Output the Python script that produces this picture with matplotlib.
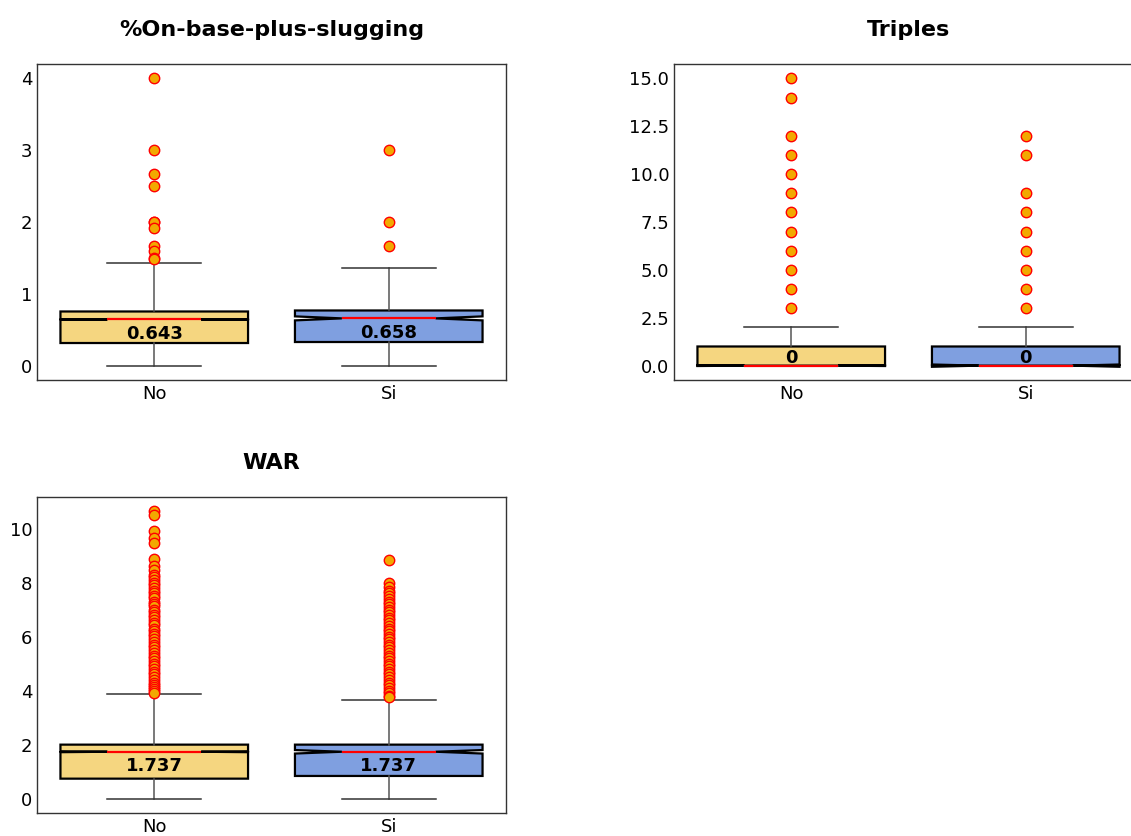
import matplotlib
matplotlib.use("Agg")
import matplotlib.pyplot as plt

# group labels
groups = ["No", "Si"]
titles = ["%On-base-plus-slugging", "Triples", "WAR"]

# %On-base-plus-slugging
ops_q1 = [0.315, 0.329]
ops_med = [0.643, 0.658]
ops_q3 = [0.754, 0.768]
ops_lo = [0.0, 0.0]
ops_hi = [1.435, 1.36]
ops_ci = [(0.638, 0.648), (0.630, 0.686)]
ops_fliers_no = [4.0, 3.0, 2.667, 2.5, 2.0, 2.0, 1.91, 1.667, 1.6, 1.5, 1.48]
ops_fliers_si = [3.0, 2.0, 1.667]

# Triples
tri_q1 = [0.0, 0.0]
tri_med = [0.0, 0.0]
tri_q3 = [1.0, 1.0]
tri_lo = [0.0, 0.0]
tri_hi = [2.0, 2.0]
tri_ci = [(-0.02, 0.02), (-0.06, 0.06)]
tri_fliers_no = [3, 4, 5, 6, 7, 8, 9, 10, 11, 12, 14, 15]
tri_fliers_si = [3, 4, 5, 6, 7, 8, 9, 11, 12]

# WAR
war_q1 = [0.74, 0.84]
war_med = [1.737, 1.737]
war_q3 = [2.0, 2.0]
war_lo = [0.0, 0.0]
war_hi = [3.86, 3.64]
war_ci = [(1.72, 1.755), (1.67, 1.80)]
war_fliers_no = [10.64, 10.52, 9.9, 9.66, 9.47, 8.88, 8.62, 8.45, 8.3, 8.2, 8.1,
                 7.98, 7.9, 7.8, 7.7, 7.6, 7.5, 7.42, 7.3, 7.2, 7.12, 7.0, 6.9,
                 6.8, 6.72, 6.6, 6.5, 6.42, 6.3, 6.2, 6.1, 6.02, 5.9, 5.8, 5.7,
                 5.6, 5.52, 5.4, 5.3, 5.2, 5.1, 5.0, 4.9, 4.8, 4.7, 4.62, 4.5,
                 4.4, 4.3, 4.2, 4.12, 4.05, 3.98, 3.92]
war_fliers_si = [8.85, 8.0, 7.85, 7.7, 7.6, 7.5, 7.4, 7.3, 7.2, 7.1, 7.0, 6.9,
                 6.8, 6.7, 6.6, 6.5, 6.4, 6.3, 6.2, 6.1, 6.0, 5.9, 5.8, 5.7,
                 5.6, 5.5, 5.4, 5.3, 5.2, 5.1, 5.0, 4.9, 4.8, 4.7, 4.6, 4.5,
                 4.4, 4.3, 4.2, 4.1, 4.0, 3.9, 3.8, 3.75]

colors = ["#f5d680", "#7f9fe0"]
labels_txt = [["0.643", "0.658"], ["0", "0"], ["1.737", "1.737"]]


def make_stats(q1, med, q3, lo, hi, ci, fl_no, fl_si):
    fl = [fl_no, fl_si]
    out = []
    for i, g in enumerate(groups):
        out.append(dict(label=g, q1=q1[i], med=med[i], q3=q3[i],
                        whislo=lo[i], whishi=hi[i], cilo=ci[i][0], cihi=ci[i][1],
                        fliers=fl[i], mean=med[i]))
    return out


all_stats = [
    make_stats(ops_q1, ops_med, ops_q3, ops_lo, ops_hi, ops_ci, ops_fliers_no, ops_fliers_si),
    make_stats(tri_q1, tri_med, tri_q3, tri_lo, tri_hi, tri_ci, tri_fliers_no, tri_fliers_si),
    make_stats(war_q1, war_med, war_q3, war_lo, war_hi, war_ci, war_fliers_no, war_fliers_si),
]

W, H = 1131, 836
fig = plt.figure(figsize=(W / 100, H / 100), dpi=100)

# axes boxes in pixels: left, top, width, height
boxes = [(37, 64, 469, 316), (674, 64, 469, 316), (37, 497, 469, 316)]

for k in range(3):
    l, t, w, h = boxes[k]
    ax = fig.add_axes([l / W, (H - t - h) / H, w / W, h / H])
    st = all_stats[k]
    art = ax.bxp(st, positions=[1, 2], widths=0.8, patch_artist=True,
                 shownotches=True,
                 boxprops=dict(edgecolor="black", linewidth=1.6),
                 whiskerprops=dict(color="#555555", linewidth=1.1),
                 capprops=dict(color="#333333", linewidth=1.1),
                 medianprops=dict(color="red", linewidth=1.6),
                 flierprops=dict(marker="o", markersize=7.5,
                                 markerfacecolor="#f2a900",
                                 markeredgecolor="red", markeredgewidth=1.0))
    for p, c in zip(art["boxes"], colors):
        p.set_facecolor(c)
    for i in range(2):
        s = st[i]
        if s["med"] <= s["q1"]:
            ax.text(i + 1, (s["q1"] + s["q3"]) / 2 - 0.1 * (s["q3"] - s["q1"]),
                    labels_txt[k][i], ha="center", va="center",
                    fontsize=13, fontweight="bold")
        else:
            ax.annotate(labels_txt[k][i], (i + 1, s["med"]), xytext=(0, -4),
                        textcoords="offset points", ha="center", va="top",
                        fontsize=13, fontweight="bold")
    ax.set_xlim(0.5, 2.5)
    ax.set_title(titles[k], fontsize=16, fontweight="bold", pad=20)
    for sp in ax.spines.values():
        sp.set_color("#333333")
        sp.set_linewidth(1.0)
    ax.tick_params(axis="y", labelsize=13, length=0, pad=3.5)
    ax.tick_params(axis="x", labelsize=13, length=0, pad=3.5)

fig.savefig("out.png", dpi=100)
